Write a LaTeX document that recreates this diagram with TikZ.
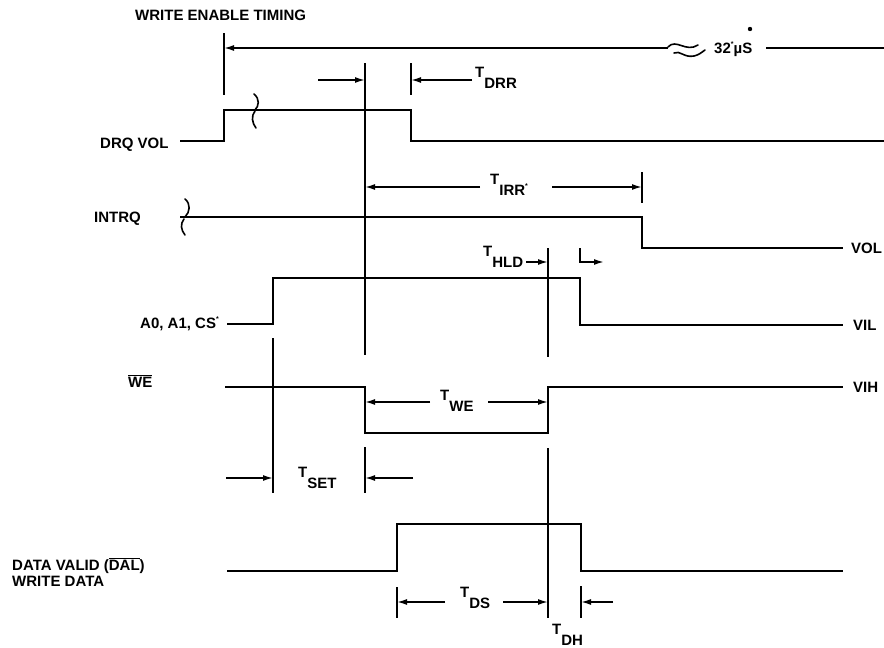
\documentclass[tikz,border=0pt]{standalone}
\usepackage{fontspec}
\setmainfont{Liberation Sans}
\usetikzlibrary{arrows.meta}
\newcommand\Tsb[1]{\raisebox{0.68em}{T}#1}
\newcommand\smstar{\raisebox{0.45em}{\scriptsize *}}
\begin{document}
\begin{tikzpicture}[x=1pt,y=-1pt,
  wave/.style={line width=1.8pt, line join=miter},
  dimarr/.style={line width=1.6pt, -{Latex[length=10pt,width=6pt]}},
  barline/.style={line width=1.8pt},
  lbl/.style={font=\fontsize{15}{16}\selectfont\bfseries, inner sep=0pt, anchor=base west},
  brk/.style={line width=1.6pt, line cap=round},
  ]
\useasboundingbox (0,0) rectangle (884,648);
\clip (0,0) rectangle (884,648);

% ---------- labels ----------
\node[lbl] (title) at (135,20) {WRITE ENABLE TIMING};
\node[lbl] (drq) at (100,148) {DRQ VOL};
\node[lbl] (intrq) at (94,222) {INTRQ};
\node[lbl] (acs) at (140,328) {A0, A1, CS\smstar};
\node[lbl] (we) at (128,387) {$\overline{\mbox{WE}}$};
\node[lbl] (dv) at (12,570) {DATA VALID ($\overline{\mbox{DAL}}$)};
\node[lbl] (wd) at (12,586) {WRITE DATA};
\node[lbl] (vol) at (851,253) {VOL};
\node[lbl] (vil) at (853,330) {VIL};
\node[lbl] (vih) at (853,392) {VIH};
\node[lbl] (us) at (714,53) {32\smstar µS};
\fill (750,29) circle (2.2pt);

\node[lbl] (tdrr) at (475,88) {\Tsb{DRR}};
\node[lbl] (tirr) at (490,195) {\Tsb{IRR}\smstar};
\node[lbl] (thld) at (483,267) {\Tsb{HLD}};
\node[lbl] (twe) at (440,411) {\Tsb{WE}};
\node[lbl] (tset) at (298,488) {\Tsb{SET}};
\node[lbl] (tds) at (460,608) {\Tsb{DS}};
\node[lbl] (tdh) at (552,645) {\Tsb{DH}};

% ---------- waveforms ----------
\draw[wave] (180,141) -- (224,141) -- (224,110) -- (411,110) -- (411,141) -- (884,141);
\draw[wave] (180,217) -- (642,217) -- (642,248) -- (843,248);
\draw[wave] (227,324) -- (273,324) -- (273,278) -- (580,278) -- (580,325) -- (843,325);
\draw[wave] (225,387) -- (365,387) -- (365,433) -- (548,433) -- (548,387) -- (843,387);
\draw[wave] (227,571) -- (397,571) -- (397,524) -- (581,524) -- (581,571) -- (843,571);

% break marks
\draw[brk] (254,94) .. controls (260,99) and (259,106) .. (255,110);
\draw[brk] (255,111) .. controls (251,116) and (252,123) .. (256,128);
\draw[brk] (185,199) .. controls (191,204) and (190,212) .. (185,217);
\draw[brk] (184,219) .. controls (180,224) and (181,230) .. (185,235);

% ---------- reference verticals ----------
\coordinate (b224t) at (224,33);  \coordinate (b224b) at (224,95);
\coordinate (m365t) at (365,63);  \coordinate (m365b) at (365,355);
\coordinate (b411t) at (411,63);  \coordinate (b411b) at (411,95);
\coordinate (b642t) at (642,172); \coordinate (b642b) at (642,203);
\coordinate (h548t) at (548,248); \coordinate (h548b) at (548,357);
\coordinate (s273t) at (273,338); \coordinate (s273b) at (273,493);
\coordinate (s365t) at (365,447); \coordinate (s365b) at (365,493);
\coordinate (d548t) at (548,448); \coordinate (d548b) at (548,618);
\coordinate (d397t) at (397,587); \coordinate (d397b) at (397,618);
\coordinate (d581t) at (581,586); \coordinate (d581b) at (581,618);
\foreach \a/\b in {b224t/b224b, m365t/m365b, b411t/b411b, b642t/b642b, h548t/h548b,
                   s273t/s273b, s365t/s365b, d548t/d548b, d397t/d397b, d581t/d581b}
  \draw[barline] (\a) -- (\b);

% ---------- dimension arrows ----------
% 32 us
\coordinate (tl) at (224,48); \coordinate (tr) at (668,48);
\draw[dimarr] (tr) -- (tl);
\draw[barline] (766,48) -- (884,48);
\draw[brk] (668,47) .. controls (676,38) and (686,53) .. (698,45);
\draw[brk] (674,53) .. controls (680,50) and (684,58) .. (694,56) .. controls (699,55) and (702,52) .. (705,50);
% T_DRR
\draw[dimarr] (318,80) -- (365,80);
\draw[dimarr] (472,80) -- (411,80);
% T_IRR
\draw[dimarr] (480,187) -- (365,187);
\draw[dimarr] (552,187) -- (642,187);
% T_HLD
\draw[dimarr] (526,262) -- (548,262);
\draw[barline] (580,248) -- (580,262);
\draw[dimarr] (579.1,262) -- (604,262);
% T_WE
\draw[dimarr] (430,402) -- (365,402);
\draw[dimarr] (488,402) -- (548,402);
% T_SET
\draw[dimarr] (226,478) -- (273,478);
\draw[dimarr] (413,478) -- (365,478);
% T_DS
\draw[dimarr] (445,602) -- (397,602);
\draw[dimarr] (503,602) -- (548,602);
% T_DH
\draw[dimarr] (613,602) -- (581,602);
\end{tikzpicture}
\end{document}
